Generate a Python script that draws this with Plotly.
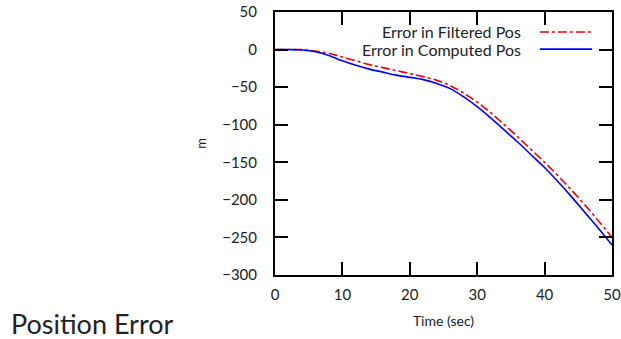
import plotly.graph_objects as go

# Time samples (sec)
time_s = [0, 2, 4, 6, 8, 10, 12, 14, 16, 18, 20, 22, 24, 26, 28, 30,
          32, 34, 36, 38, 40, 42, 44, 46, 48, 50]

# Position error of the filtered estimate (m)
err_filtered = [0, 0, 0, -2, -5, -10, -15, -20, -24, -28, -32, -36, -41, -48,
                -58, -70, -84, -100, -116, -133, -150, -168, -187, -207, -228, -250]

# Position error of the raw computed position (m)
err_computed = [0, 0, -0.5, -3, -8, -15, -21, -26, -30, -34, -37, -40, -45, -52,
                -63, -76, -91, -107, -123, -140, -157, -176, -196, -217, -238, -260]

x_ticks = [0, 10, 20, 30, 40, 50]
y_ticks = [50, 0, -50, -100, -150, -200, -250, -300]

legend_names = ["Error in Filtered Pos", "Error in Computed Pos"]
RED = "#e8000b"
BLUE = "#0000ff"
FONT = "Lato"
INK = "#222"

fig = go.Figure()
fig.add_trace(go.Scatter(x=time_s, y=err_filtered, mode="lines", name=legend_names[0],
                         line=dict(color=RED, width=1.6, dash="dashdot", shape="spline"),
                         showlegend=False))
fig.add_trace(go.Scatter(x=time_s, y=err_computed, mode="lines", name=legend_names[1],
                         line=dict(color=BLUE, width=1.6, shape="spline"),
                         showlegend=False))

axis_common = dict(showgrid=False, zeroline=False, showline=True, linecolor="black",
                   linewidth=2, mirror="ticks", ticks="inside", ticklen=13,
                   tickwidth=2, tickcolor="black", automargin=False,
                   tickfont=dict(family=FONT, size=15, color=INK))

fig.update_xaxes(range=[0, 50], tickvals=x_ticks, ticklabelstandoff=5,
                 title=dict(text="Time (sec)", font=dict(family=FONT, size=14, color=INK),
                            standoff=14),
                 **axis_common)
fig.update_yaxes(range=[-300, 50], tickvals=y_ticks, ticklabelstandoff=13,
                 title=dict(text="m", font=dict(family=FONT, size=13, color=INK),
                            standoff=13),
                 **axis_common)

# Legend drawn in the top-right corner: right-aligned text followed by a line sample
legend_rows = [(legend_names[0], RED, "dashdot"), (legend_names[1], BLUE, "solid")]
for i, (label, color, dash) in enumerate(legend_rows):
    yp = 0.924 - i * 0.065
    fig.add_annotation(xref="paper", yref="paper", x=0.735, y=yp, xanchor="right",
                       yanchor="middle", text=label, showarrow=False,
                       font=dict(family=FONT, size=16, color=INK))
    fig.add_shape(type="line", xref="paper", yref="paper", x0=0.786, x1=0.941,
                  y0=yp, y1=yp, line=dict(color=color, width=1.6, dash=dash))

fig.add_annotation(xref="paper", yref="paper", x=-0.79, y=-0.183, xanchor="left",
                   yanchor="middle", text="Position Error", showarrow=False,
                   font=dict(family=FONT, size=27, color=INK))

fig.update_layout(width=621, height=339, margin=dict(l=275, r=9, t=12, b=64),
                  paper_bgcolor="white", plot_bgcolor="white")

fig.write_html("out.html")
